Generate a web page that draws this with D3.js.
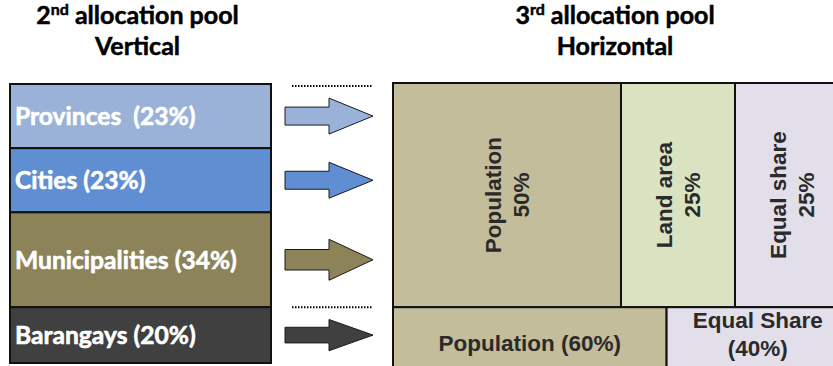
<!DOCTYPE html>
<html>
<head>
<meta charset="utf-8">
<script src="https://cdn.jsdelivr.net/npm/d3@7"></script>
<style>
  body { margin: 0; background: #fff; }
  svg { display: block; }
</style>
</head>
<body>
<div id="chart"></div>
<script>
// 2nd pool (vertical split between LGU levels)
const levels = ["Provinces", "Cities", "Municipalities", "Barangays"];
const levelShares = [23, 23, 34, 20];
const levelLabels = ["Provinces  (23%)", "Cities (23%)", "Municipalities (34%)", "Barangays (20%)"];
const levelColors = ["#9ab2d8", "#5f8ed3", "#8c8358", "#404040"];

// 3rd pool (horizontal split) for provinces / cities / municipalities
const upperFactors = ["Population", "Land area", "Equal share"];
const upperShares = [50, 25, 25];
const upperColors = ["#c3bd9b", "#d9e3c1", "#e3dfea"];

// 3rd pool for barangays
const lowerFactors = ["Population (60%)", "Equal Share|(40%)"];
const lowerShares = [60, 40];
const lowerColors = ["#c3bd9b", "#e3dfea"];

const width = 833;
const height = 366;

const svg = d3.select("#chart")
  .append("svg")
  .attr("width", width)
  .attr("height", height);

// shared vertical scale: cumulative share of the 2nd pool
const y = d3.scaleLinear().domain([0, 100]).range([84, 363]);
const xLeft = d3.scaleLinear().domain([0, 100]).range([10, 271]);
const xRight = d3.scaleLinear().domain([0, 100]).range([393, 849]);

const cum = d3.cumsum(levelShares);
const rows = levels.map((d, i) => ({
  name: d,
  label: levelLabels[i],
  color: levelColors[i],
  y0: cum[i] - levelShares[i],
  y1: cum[i]
}));

const leftFont = "Lato, 'Open Sans', sans-serif";
const rightFont = "'Liberation Sans', Arial, sans-serif";

// titles
function title(g, cx, num, sup, second) {
  const t = g.append("text")
    .attr("x", cx)
    .attr("y", 24)
    .attr("text-anchor", "middle")
    .style("font-family", leftFont)
    .style("font-weight", "700")
    .style("font-size", "25px")
    .attr("fill", "#000")
    .attr("stroke", "#000")
    .attr("stroke-width", 0.5);
  t.append("tspan").text(num);
  t.append("tspan").attr("dy", -9).style("font-size", "16px").text(sup);
  t.append("tspan").attr("dy", 9).text(" allocation pool");
  g.append("text")
    .attr("x", cx)
    .attr("y", 55)
    .attr("text-anchor", "middle")
    .style("font-family", leftFont)
    .style("font-weight", "700")
    .style("font-size", "25px")
    .attr("stroke", "#000")
    .attr("stroke-width", 0.5)
    .text(second);
}
svg.append("g").call(title, xLeft(50) - 3, "2", "nd", "Vertical");
svg.append("g").call(title, 615, "3", "rd", "Horizontal");

// left stacked boxes
const left = svg.append("g");
left.selectAll("rect")
  .data(rows)
  .join("rect")
  .attr("x", xLeft(0))
  .attr("y", d => y(d.y0))
  .attr("width", xLeft(100) - xLeft(0))
  .attr("height", d => y(d.y1) - y(d.y0))
  .attr("fill", d => d.color)
  .attr("stroke", "#111")
  .attr("stroke-width", 2);

left.selectAll("text")
  .data(rows)
  .join("text")
  .attr("x", xLeft(0) + 5)
  .attr("y", d => (y(d.y0) + y(d.y1)) / 2 + 9)
  .attr("fill", "#fff")
  .attr("stroke", "#fff")
  .attr("stroke-width", 0.6)
  .style("font-family", leftFont)
  .style("font-weight", "700")
  .style("font-size", "24.6px")
  .style("white-space", "pre")
  .attr("xml:space", "preserve")
  .text(d => d.label);

// arrows
const ax0 = 285, axHead = 329, ax1 = 373;
function arrowPath(d) {
  const h = y(d.y1) - y(d.y0);
  const cy = (y(d.y0) + y(d.y1)) / 2;
  const head = Math.min(20.5, h * 0.28);
  const shaft = head * 0.5;
  return "M" + ax0 + "," + (cy - shaft) +
    "L" + axHead + "," + (cy - shaft) +
    "L" + axHead + "," + (cy - head) +
    "L" + ax1 + "," + cy +
    "L" + axHead + "," + (cy + head) +
    "L" + axHead + "," + (cy + shaft) +
    "L" + ax0 + "," + (cy + shaft) + "Z";
}
svg.append("g")
  .selectAll("path")
  .data(rows)
  .join("path")
  .attr("d", arrowPath)
  .attr("fill", d => d.color)
  .attr("stroke", "#1a1a1a")
  .attr("stroke-width", 1);

// dotted separators
svg.append("g")
  .selectAll("line")
  .data([0, 80])
  .join("line")
  .attr("x1", 292)
  .attr("x2", 373)
  .attr("y1", d => y(d) + (d === 0 ? 2 : 0))
  .attr("y2", d => y(d) + (d === 0 ? 2 : 0))
  .attr("stroke", "#000")
  .attr("stroke-width", 2)
  .attr("stroke-dasharray", "1.5,1.5");

// right blocks
function blocks(shares, names, colors, top, bottom) {
  const c = d3.cumsum(shares);
  return shares.map((s, i) => ({
    x0: c[i] - s, x1: c[i], name: names[i], color: colors[i], top: top, bottom: bottom
  }));
}
const upper = blocks(upperShares, upperFactors, upperColors, y(0) - 1, y(80));
const lower = blocks(lowerShares, lowerFactors, lowerColors, y(80), height + 15);

const right = svg.append("g");
right.selectAll("rect")
  .data(upper.concat(lower))
  .join("rect")
  .attr("x", d => xRight(d.x0))
  .attr("y", d => d.top)
  .attr("width", d => xRight(d.x1) - xRight(d.x0))
  .attr("height", d => d.bottom - d.top)
  .attr("fill", d => d.color)
  .attr("stroke", "#111")
  .attr("stroke-width", 2);

// rotated labels in upper row
const up = right.selectAll("g.up")
  .data(upper)
  .join("g")
  .attr("class", "up")
  .attr("transform", d => "translate(" + (xRight(d.x0) + xRight(d.x1)) / 2 + "," + (d.top + d.bottom) / 2 + ") rotate(-90)");
up.append("text")
  .attr("text-anchor", "middle")
  .attr("fill", "#2a2a2a")
  .style("font-family", rightFont)
  .style("font-weight", "700")
  .style("font-size", "22.5px")
  .each(function(d, i) {
    const t = d3.select(this);
    t.append("tspan").attr("x", 0).attr("y", -6).text(d.name);
    t.append("tspan").attr("x", 0).attr("y", 22).text(upperShares[i] + "%");
  });

// labels in lower row
right.selectAll("text.low")
  .data(lower)
  .join("text")
  .attr("class", "low")
  .attr("text-anchor", "middle")
  .attr("fill", "#2a2a2a")
  .style("font-family", rightFont)
  .style("font-weight", "700")
  .style("font-size", "22.5px")
  .each(function(d) {
    const t = d3.select(this);
    const cx = (xRight(d.x0) + xRight(d.x1)) / 2;
    const parts = d.name.split("|");
    if (parts.length === 1) {
      t.append("tspan").attr("x", cx).attr("y", 351).text(parts[0]);
    } else {
      t.append("tspan").attr("x", cx).attr("y", 328).text(parts[0]);
      t.append("tspan").attr("x", cx).attr("y", 356).text(parts[1]);
    }
  });
</script>
</body>
</html>
